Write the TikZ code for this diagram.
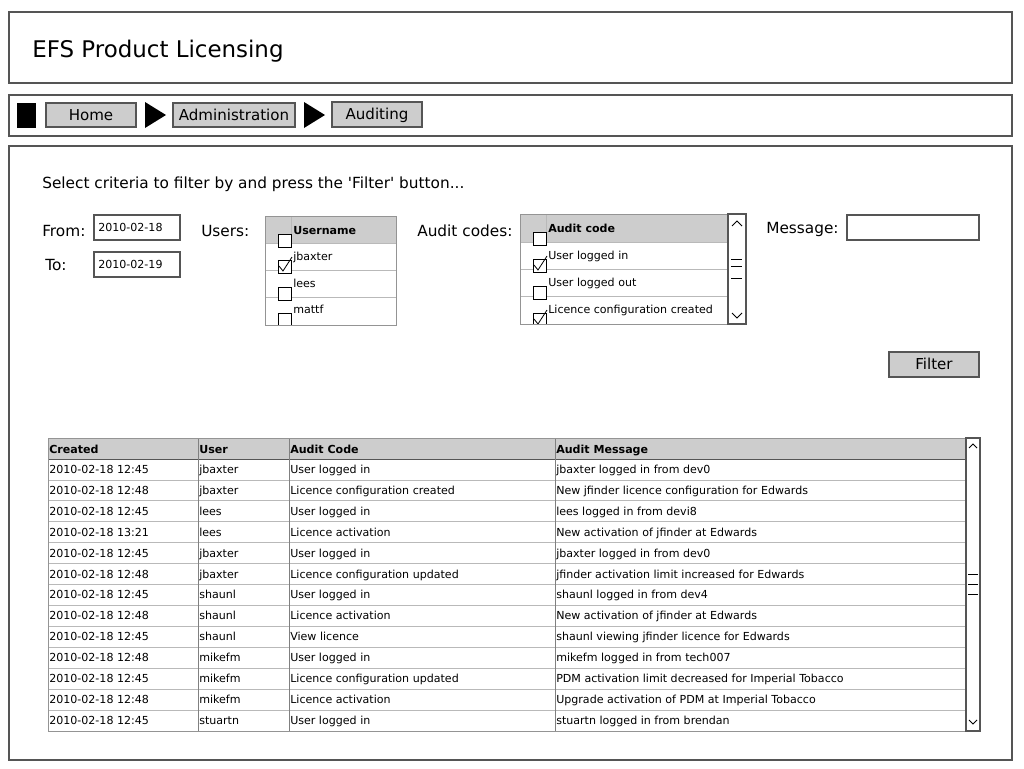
\documentclass[tikz,border=0pt]{standalone}
\usepackage{fontspec}
\setmainfont{DejaVu Sans}[Ligatures=TeXOff]

\definecolor{framegray}{RGB}{85,85,85}
\definecolor{headgray}{RGB}{205,205,205}
\definecolor{rulegray}{RGB}{185,185,185}

\tikzset{
  panel/.style={draw=framegray, line width=1.1pt},
  fieldbox/.style={draw=framegray, fill=white, line width=0.9pt},
  buttonbox/.style={draw=framegray, fill=headgray, line width=0.9pt},
  listbox/.style={draw=rulegray!80!black, line width=0.7pt},
  rowrule/.style={draw=rulegray, line width=0.6pt},
  tickline/.style={draw=black, line width=0.6pt},
  title/.style={anchor=base west, inner sep=0pt, font=\fontsize{17.2}{20}\selectfont},
  label/.style={anchor=base west, inner sep=0pt, font=\fontsize{11.5}{13}\selectfont},
  btntext/.style={anchor=base, inner sep=0pt, font=\fontsize{11.3}{13}\selectfont},
  cell/.style={anchor=base west, inner sep=0pt, font=\fontsize{8.3}{10}\selectfont},
  headcell/.style={cell, font=\fontsize{8.3}{10}\selectfont\bfseries},
}

% checkbox at top left corner (x,y)
\newcommand{\tickbox}[2]{\draw[tickline, fill=white] (#1,#2) rectangle ++(13,13);}
% check mark for a checkbox at (x,y)
\newcommand{\tickmark}[2]{\draw[tickline] (#1+1,#2+6) -- (#1+5,#2+11) -- (#1+14,#2-3);}

\begin{document}
\begin{tikzpicture}[x=0.75pt, y=-0.75pt]
  \useasboundingbox (0,0) rectangle (1024,768);

  % Header panel
  \draw[panel] (9,12) rectangle (1012,83);
  \node[title] (apptitle) at (32,57) {EFS Product Licensing};

  % Breadcrumb panel
  \draw[panel] (9,95) rectangle (1012,136);
  \fill[black] (17,103) rectangle (36,128);
  \draw[buttonbox] (46,103) rectangle (136,127);
  \node[btntext] (home) at (91,120) {Home};
  \fill[black] (145,102) -- (166,115) -- (145,128) -- cycle;
  \draw[buttonbox] (173,103) rectangle (295,127);
  \node[btntext] (admin) at (234,120) {Administration};
  \fill[black] (304,102) -- (325,115) -- (304,128) -- cycle;
  \draw[buttonbox] (332,102) rectangle (422,127);
  \node[btntext] (auditing) at (377,119) {Auditing};

  % Main panel
  \draw[panel] (9,146) rectangle (1012,760);
  \node[label] (intro) at (42,188) {Select criteria to filter by and press the 'Filter' button...};

  % Date fields
  \node[label] (fromlbl) at (42,236) {From:};
  \draw[fieldbox] (94,215) rectangle (180,240);
  \node[cell] (fromval) at (98,231) {2010-02-18};
  \node[label] (tolbl) at (45,270) {To:};
  \draw[fieldbox] (94,252) rectangle (180,277);
  \node[cell] (toval) at (98,268) {2010-02-19};

  % Users list
  \node[label] (userslbl) at (201,236) {Users:};
  \fill[headgray] (265,216) rectangle (396,243);
  \draw[rowrule] (291,216) -- (291,243);
  \draw[rowrule] (265,243) -- (396,243);
  \draw[rowrule] (265,270) -- (396,270);
  \draw[rowrule] (265,297) -- (396,297);
  \begin{scope}
    \clip (265,216) rectangle (396,325);
    \tickbox{278}{234}
    \tickbox{278}{260}
    \tickmark{278}{260}
    \tickbox{278}{287}
    \tickbox{278}{313}
  \end{scope}
  \draw[listbox] (265,216) rectangle (396,325);
  \node[headcell] (usrhead) at (293,234) {Username};
  \node[cell] (usrjb) at (293,260) {jbaxter};
  \node[cell] (usrlees) at (293,287) {lees};
  \node[cell] (usrmattf) at (293,313) {mattf};

  % Audit codes list
  \node[label] (codeslbl) at (417,236) {Audit codes:};
  \fill[headgray] (520,214) rectangle (728,242);
  \draw[rowrule] (546,214) -- (546,242);
  \draw[rowrule] (520,242) -- (728,242);
  \draw[rowrule] (520,269) -- (728,269);
  \draw[rowrule] (520,296) -- (728,296);
  \begin{scope}
    \clip (520,214) rectangle (728,324);
    \tickbox{533}{232}
    \tickbox{533}{259}
    \tickmark{533}{259}
    \tickbox{533}{286}
    \tickbox{533}{313}
    \tickmark{533}{313}
  \end{scope}
  \draw[listbox] (520,214) rectangle (746,324);
  \draw[fieldbox] (728,214) rectangle (746,324);
  \draw[tickline] (732,226) -- (737,221) -- (742,226);
  \draw[tickline] (732,313) -- (737,318) -- (742,313);
  \draw[tickline] (731,259) -- (742,259);
  \draw[tickline] (731,266) -- (742,266);
  \draw[tickline] (731,278) -- (742,278);
  \node[headcell] (codehead) at (548,232) {Audit code};
  \node[cell] (codein) at (548,259) {User logged in};
  \node[cell] (codeout) at (548,286) {User logged out};
  \node[cell] (codecreated) at (548,313) {Licence configuration created};

  % Message field
  \node[label] (msglbl) at (766,233) {Message:};
  \draw[fieldbox] (847,215) rectangle (979,240);

  % Filter button
  \draw[buttonbox] (889,352) rectangle (979,377);
  \node[btntext] (filter) at (934,369) {Filter};

  % Results table
  \fill[headgray] (48,438) rectangle (966,459);
  \foreach \i in {1,...,12}
    \draw[rowrule] (48,459+20.92*\i) -- (966,459+20.92*\i);
  \draw[rowrule, draw=framegray] (48,459) -- (966,459);
  \draw[rowrule, draw=gray] (198,438) -- (198,731);
  \draw[rowrule, draw=gray] (289,438) -- (289,731);
  \draw[rowrule, draw=gray] (555,438) -- (555,731);
  \draw[listbox] (48,438) rectangle (966,731);
  \node[headcell] (crehead) at (49,453.5) {Created};
  \node[headcell] (usrcolhead) at (199,453.5) {User};
  \node[headcell] (codecolhead) at (290,453.5) {Audit Code};
  \node[headcell] (msgcolhead) at (556,453.5) {Audit Message};
  \foreach \c/\u/\a/\m [count=\i] in {
      2010-02-18 12:45/jbaxter/User logged in/jbaxter logged in from dev0,
      2010-02-18 12:48/jbaxter/Licence configuration created/New jfinder licence configuration for Edwards,
      2010-02-18 12:45/lees/User logged in/lees logged in from devi8,
      2010-02-18 13:21/lees/Licence activation/New activation of jfinder at Edwards,
      2010-02-18 12:45/jbaxter/User logged in/jbaxter logged in from dev0,
      2010-02-18 12:48/jbaxter/Licence configuration updated/jfinder activation limit increased for Edwards,
      2010-02-18 12:45/shaunl/User logged in/shaunl logged in from dev4,
      2010-02-18 12:48/shaunl/Licence activation/New activation of jfinder at Edwards,
      2010-02-18 12:45/shaunl/View licence/shaunl viewing jfinder licence for Edwards,
      2010-02-18 12:48/mikefm/User logged in/mikefm logged in from tech007,
      2010-02-18 12:45/mikefm/Licence configuration updated/PDM activation limit decreased for Imperial Tobacco,
      2010-02-18 12:48/mikefm/Licence activation/Upgrade activation of PDM at Imperial Tobacco,
      2010-02-18 12:45/stuartn/User logged in/stuartn logged in from brendan}
  {
    \pgfmathsetmacro{\rowy}{459+20.92*(\i-0.5)+4}
    \node[cell] (cre\i) at (49,\rowy) {\c};
    \node[cell] (usr\i) at (199,\rowy) {\u};
    \node[cell] (code\i) at (290,\rowy) {\a};
    \node[cell] (msg\i) at (556,\rowy) {\m};
  }

  % Table scrollbar
  \draw[fieldbox] (966,438) rectangle (980,731);
  \draw[tickline] (969,448) -- (973,444) -- (977,448);
  \draw[tickline] (969,720) -- (973,724) -- (977,720);
  \draw[tickline] (968,574) -- (978,574);
  \draw[tickline] (968,584) -- (978,584);
  \draw[tickline] (968,594) -- (978,594);
\end{tikzpicture}
\end{document}
